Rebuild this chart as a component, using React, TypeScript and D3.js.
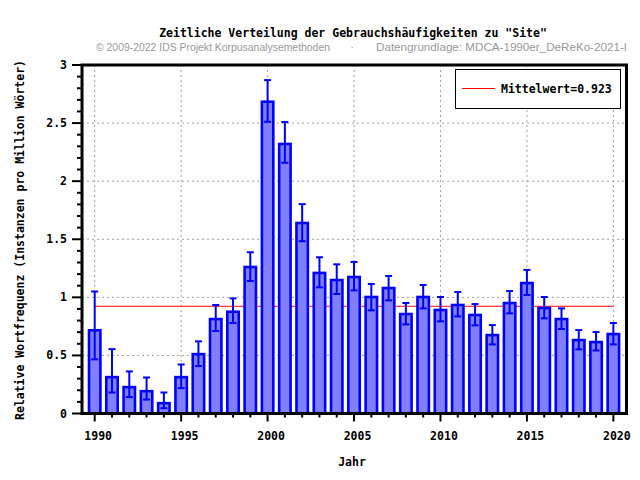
import React from "react";
import * as d3 from "d3";

const years = [1990,1991,1992,1993,1994,1995,1996,1997,1998,1999,2000,2001,2002,2003,2004,2005,2006,2007,2008,2009,2010,2011,2012,2013,2014,2015,2016,2017,2018,2019,2020];
const values = [0.716,0.313,0.227,0.192,0.089,0.313,0.511,0.813,0.876,1.261,2.684,2.32,1.64,1.21,1.149,1.175,1.003,1.08,0.856,1.003,0.891,0.934,0.848,0.675,0.951,1.123,0.908,0.813,0.632,0.615,0.684];
const errHigh = [1.05,0.554,0.362,0.31,0.181,0.422,0.621,0.934,0.991,1.388,2.87,2.509,1.802,1.345,1.284,1.305,1.115,1.184,0.951,1.106,1.003,1.046,0.942,0.761,1.054,1.236,1.003,0.905,0.718,0.701,0.779];
const errLow = [0.466,0.181,0.141,0.12,0.046,0.218,0.408,0.71,0.779,1.141,2.511,2.158,1.483,1.086,1.029,1.06,0.888,0.974,0.767,0.905,0.793,0.836,0.759,0.595,0.862,1.02,0.819,0.727,0.552,0.543,0.595];
const meanValue = 0.923;
const xTickLabels = [1990, 1995, 2000, 2005, 2010, 2015, 2020];
const yTickLabels = [0, 0.5, 1, 1.5, 2, 2.5, 3];

const title = 'Zeitliche Verteilung der Gebrauchshäufigkeiten zu "Site"';
const subLeft = "© 2009-2022 IDS Projekt Korpusanalysemethoden";
const subRight = "Datengrundlage: MDCA-1990er_DeReKo-2021-I";
const yLabel = "Relative Wortfrequenz (Instanzen pro Million Wörter)";
const xLabel = "Jahr";
const legendLabel = "Mittelwert=0.923";

const mono = "'DejaVu Sans Mono', monospace";

export default function App() {
  const left = 82, right = 626.5, top = 65, bottom = 413.5;
  const x = d3.scaleLinear().domain([1989.265, 2020.76]).range([left, right]);
  const y = d3.scaleLinear().domain([0, 3]).range([bottom, top]);
  const step = x(1991) - x(1990);
  const bw = step * 0.66;
  const minorY = d3.range(0, 3.0001, 0.1);
  const gridColor = "#a0a0a0";

  return (
    <div style={{ position: "fixed", left: 0, top: 0 }}>
      <svg width={640} height={480} style={{ display: "block", background: "#fff" }}>
        <rect x={0} y={0} width={640} height={480} fill="#fff" />
        {/* grid */}
        {yTickLabels.filter(v => v > 0 && v < 3).map(v => (
          <line key={"gy" + v} x1={left} x2={right} y1={y(v)} y2={y(v)} stroke={gridColor} strokeWidth={1} strokeDasharray="2,3" />
        ))}
        {xTickLabels.map(v => (
          <line key={"gx" + v} x1={x(v)} x2={x(v)} y1={top} y2={bottom} stroke={gridColor} strokeWidth={1} strokeDasharray="2,3" />
        ))}
        {/* mean line */}
        <line x1={x(years[0])} x2={x(years[years.length - 1])} y1={y(meanValue)} y2={y(meanValue)} stroke="#ff0000" strokeWidth={1} />
        {/* bars */}
        {years.map((yr, i) => (
          <rect key={"b" + yr} x={x(yr) - bw / 2} y={y(values[i])} width={bw} height={y(0) - y(values[i])}
            fill="#8080ff" stroke="#0000ff" strokeWidth={2.6} />
        ))}
        {/* error bars */}
        {years.map((yr, i) => (
          <g key={"e" + yr} stroke="#0000ff" strokeWidth={2}>
            <line x1={x(yr)} x2={x(yr)} y1={y(errHigh[i])} y2={y(errLow[i])} />
            <line x1={x(yr) - 3.5} x2={x(yr) + 3.5} y1={y(errHigh[i])} y2={y(errHigh[i])} />
            <line x1={x(yr) - 3.5} x2={x(yr) + 3.5} y1={y(errLow[i])} y2={y(errLow[i])} />
          </g>
        ))}
        {/* frame */}
        <rect x={left} y={top} width={right - left} height={bottom - top} fill="none" stroke="#000" strokeWidth={3} />
        {/* y ticks */}
        {minorY.map((v, i) => (
          <line key={"yt" + i} x1={left} x2={left - (i % 5 === 0 ? 10 : 5)} y1={y(v)} y2={y(v)} stroke="#000" strokeWidth={2} />
        ))}
        {yTickLabels.map(v => (
          <text key={"yl" + v} x={67} y={y(v) + 4} textAnchor="end" fontFamily={mono} fontWeight="bold" fontSize={11.5} fill="#000">{String(v)}</text>
        ))}
        {/* x ticks */}
        {years.map(yr => (
          <line key={"xt" + yr} x1={x(yr)} x2={x(yr)} y1={bottom} y2={bottom + (yr % 5 === 0 ? 8 : 4)} stroke="#000" strokeWidth={2} />
        ))}
        {xTickLabels.map(v => (
          <text key={"xl" + v} x={x(v) + 3.5} y={440} textAnchor="middle" fontFamily={mono} fontWeight="bold" fontSize={11.5} fill="#000">{String(v)}</text>
        ))}
        {/* legend */}
        <rect x={455.5} y={69.5} width={165} height={39} fill="#fff" stroke="#000" strokeWidth={1} />
        <line x1={462} x2={495} y1={88.5} y2={88.5} stroke="#ff0000" strokeWidth={1} />
        <text x={501} y={92.5} fontFamily={mono} fontWeight="bold" fontSize={11.5} fill="#000">{legendLabel}</text>
        {/* titles */}
        <text x={353} y={37} textAnchor="middle" fontFamily={mono} fontWeight="bold" fontSize={11.5} fill="#000">{title}</text>
        <text x={96} y={51} fontFamily="'Liberation Sans', Arial, sans-serif" fontSize={11} fill="#999" textLength={234} lengthAdjust="spacingAndGlyphs">{subLeft}</text>
        <text x={352} y={51} fontFamily="'Liberation Sans', Arial, sans-serif" fontSize={11} fill="#999" textAnchor="middle">·</text>
        <text x={376} y={51} fontFamily="'Liberation Sans', Arial, sans-serif" fontSize={11} fill="#999" textLength={251} lengthAdjust="spacingAndGlyphs">{subRight}</text>
        <text x={352} y={466} textAnchor="middle" fontFamily={mono} fontWeight="bold" fontSize={11.5} fill="#000">{xLabel}</text>
        <text transform={`translate(24, 240) rotate(-90)`} textAnchor="middle" fontFamily={mono} fontWeight="bold" fontSize={11.5} fill="#000">{yLabel}</text>
      </svg>
    </div>
  );
}
